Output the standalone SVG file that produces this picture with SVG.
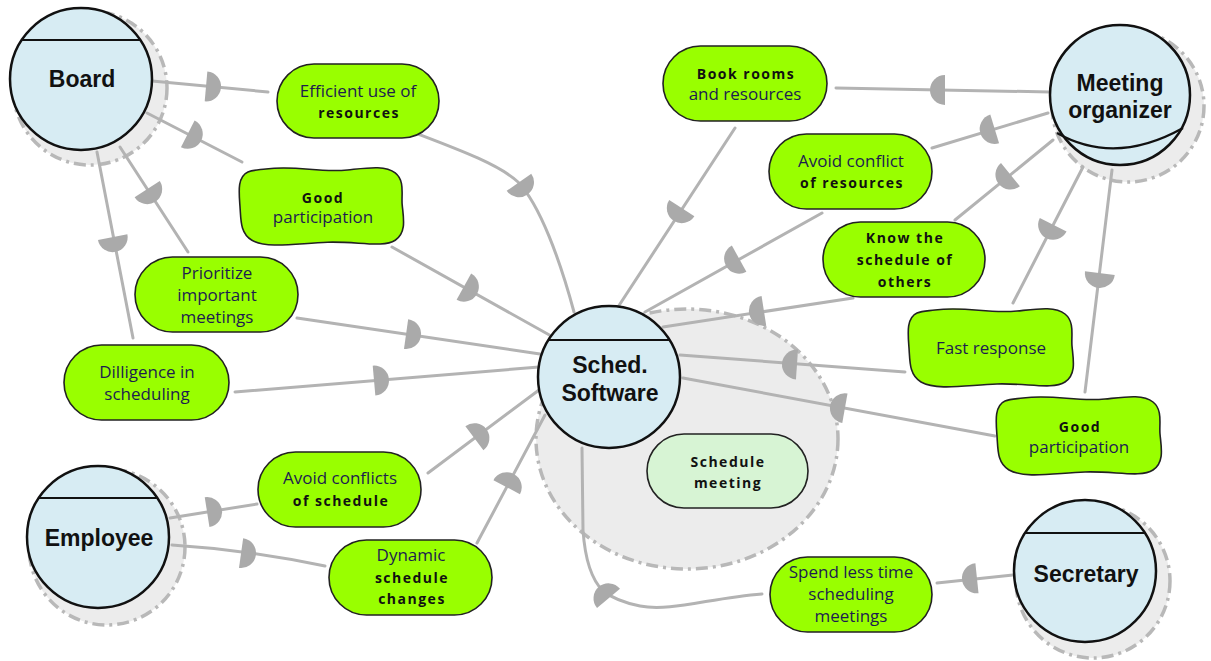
<svg xmlns="http://www.w3.org/2000/svg" xmlns:xlink="http://www.w3.org/1999/xlink" width="1211" height="661" viewBox="0 0 1211 661">
<defs>
<style>
.bnd{fill:#ececec;stroke:#b8b8b8;stroke-width:3.5;stroke-dasharray:12 5 3 5}
.ac{fill:#d7ecf3;stroke:#111;stroke-width:2.5}
.al{fill:none;stroke:#111;stroke-width:2.2}
.goal{fill:#99ff00;stroke:#222;stroke-width:1.6}
.task{fill:#d7f4d4;stroke:#222;stroke-width:1.6}
.link{fill:none;stroke:#b3b3b3;stroke-width:3;stroke-linecap:round}
.d{fill:#aaaaaa}
.lbl{font-family:"Liberation Sans",Arial,sans-serif;font-weight:bold;font-size:23px;text-anchor:middle;fill:#111}
.n{font-family:"Open Sans","Noto Sans",sans-serif;font-size:17px;fill:#1d1d4f;text-anchor:middle}
.b{font-family:"Open Sans","Noto Sans",sans-serif;font-weight:bold;font-size:14px;letter-spacing:1.5px;fill:#111;text-anchor:middle}
</style>
<path id="D" d="M-7,-15 A15,15 0 0 1 -7,15 Z"/>
<path id="sg" d="M28,4 C60,0 80,8 110,5 C130,3 148,0 158,8 C168,16 164,30 165,40 C166,52 170,68 158,76 C146,84 120,77 90,78 C60,79 30,85 14,76 C2,69 3,55 2,42 C1,28 -1,12 10,7 C15,5 20,5 28,4 Z"/>
</defs>
<rect width="1211" height="661" fill="#fff"/>

<g id="boundaries">
<circle class="bnd" cx="90" cy="88" r="77"/>
<circle class="bnd" cx="107" cy="547" r="78"/>
<ellipse class="bnd" cx="687" cy="439" rx="151" ry="130"/>
<circle class="bnd" cx="1128" cy="106" r="76"/>
<circle class="bnd" cx="1093" cy="581" r="77"/>
</g>

<g id="connectors">
<path class="link" d="M152,81 L268,92"/>
<use href="#D" class="d" transform="translate(213,87) rotate(5)"/>
<path class="link" d="M418,134 C460,150 500,165 518,182 C540,205 560,260 574,312"/>
<use href="#D" class="d" transform="translate(523,188) rotate(55)"/>
<path class="link" d="M147,113 L242,162"/>
<use href="#D" class="d" transform="translate(194,137) rotate(27)"/>
<path class="link" d="M392,247 L553,337"/>
<use href="#D" class="d" transform="translate(470,290) rotate(29)"/>
<path class="link" d="M120,147 L188,252"/>
<use href="#D" class="d" transform="translate(151,195) rotate(57)"/>
<path class="link" d="M297,318 L540,354"/>
<use href="#D" class="d" transform="translate(413,335) rotate(8)"/>
<path class="link" d="M97,152 L133,338"/>
<use href="#D" class="d" transform="translate(114,244) rotate(79)"/>
<path class="link" d="M235,392 L539,367"/>
<use href="#D" class="d" transform="translate(381,380) rotate(-5)"/>
<path class="link" d="M170,518 L257,504"/>
<use href="#D" class="d" transform="translate(214,511) rotate(-9)"/>
<path class="link" d="M172,545 Q250,550 325,566"/>
<use href="#D" class="d" transform="translate(248,554) rotate(8)"/>
<path class="link" d="M428,473 L539,390"/>
<use href="#D" class="d" transform="translate(480,434) rotate(-37)"/>
<path class="link" d="M477,543 L545,415"/>
<use href="#D" class="d" transform="translate(510,481) rotate(-62)"/>
<path class="link" d="M735,128 L618,307"/>
<use href="#D" class="d" transform="translate(678,214) rotate(123)"/>
<path class="link" d="M822,213 L645,312"/>
<use href="#D" class="d" transform="translate(733,262) rotate(151)"/>
<path class="link" d="M853,298 L663,327"/>
<use href="#D" class="d" transform="translate(757,312) rotate(171)"/>
<path class="link" d="M905,372 L680,355"/>
<use href="#D" class="d" transform="translate(790,364) rotate(184)"/>
<path class="link" d="M995,436 L683,378"/>
<use href="#D" class="d" transform="translate(838,407) rotate(190)"/>
<path class="link" d="M1050,92 L836,88"/>
<use href="#D" class="d" transform="translate(938,90) rotate(180)"/>
<path class="link" d="M1048,113 L932,148"/>
<use href="#D" class="d" transform="translate(988,131) rotate(163)"/>
<path class="link" d="M1053,140 L955,220"/>
<use href="#D" class="d" transform="translate(1005,179) rotate(141)"/>
<path class="link" d="M1083,167 L1013,303"/>
<use href="#D" class="d" transform="translate(1050,231) rotate(117)"/>
<path class="link" d="M1112,170 L1085,392"/>
<use href="#D" class="d" transform="translate(1099,280) rotate(97)"/>
<path class="link" d="M1013,575 L937,583"/>
<use href="#D" class="d" transform="translate(970,579) rotate(174)"/>
<path class="link" d="M762,594 C710,598 670,612 640,606 C625,603 612,598 603,591 C592,580 585,560 583,530 L582,448"/>
<use href="#D" class="d" transform="translate(604,593) rotate(-130)"/>
</g>

<g id="board">
<circle class="ac" cx="81" cy="79" r="71"/>
<line class="al" x1="22" y1="40" x2="140" y2="40"/>
<text class="lbl" x="82" y="87">Board</text>
</g>
<g id="employee">
<circle class="ac" cx="98" cy="537" r="71"/>
<line class="al" x1="39" y1="498" x2="157" y2="498"/>
<text class="lbl" x="99" y="546">Employee</text>
</g>
<g id="sched-software">
<circle class="ac" cx="609" cy="377" r="71"/>
<line class="al" x1="548" y1="340" x2="670" y2="340"/>
<text class="lbl" x="610" y="373">Sched.</text>
<text class="lbl" x="610" y="401">Software</text>
</g>
<g id="meeting-organizer">
<circle class="ac" cx="1120" cy="95" r="70"/>
<path class="al" d="M1057,133 Q1115,166 1183,128"/>
<text class="lbl" x="1120" y="91">Meeting</text>
<text class="lbl" x="1120" y="118">organizer</text>
</g>
<g id="secretary">
<circle class="ac" cx="1085" cy="571" r="71"/>
<line class="al" x1="1025" y1="533" x2="1145" y2="533"/>
<text class="lbl" x="1086" y="582">Secretary</text>
</g>

<g id="efficient-use">
<rect class="goal" x="277" y="64" width="162" height="74" rx="37"/>
<text class="n" x="358" y="97">Efficient use of</text>
<text class="b" x="359" y="118">resources</text>
</g>
<g id="good-participation-1">
<use href="#sg" class="goal" transform="translate(238,165) scale(0.995,0.99)"/>
<text class="b" x="323" y="203">Good</text>
<text class="n" x="323" y="223">participation</text>
</g>
<g id="prioritize">
<rect class="goal" x="135" y="257" width="163" height="75" rx="37.5"/>
<text class="n" x="217" y="279">Prioritize</text>
<text class="n" x="217" y="301">important</text>
<text class="n" x="217" y="323">meetings</text>
</g>
<g id="dilligence">
<rect class="goal" x="64" y="345" width="165" height="75" rx="37.5"/>
<text class="n" x="147" y="378">Dilligence in</text>
<text class="n" x="147" y="400">scheduling</text>
</g>
<g id="avoid-conflicts-schedule">
<rect class="goal" x="258" y="452" width="163" height="75" rx="37.5"/>
<text class="n" x="340" y="484">Avoid conflicts</text>
<text class="b" x="341" y="506">of schedule</text>
</g>
<g id="dynamic-schedule">
<rect class="goal" x="329" y="540" width="163" height="75" rx="37.5"/>
<text class="n" x="411" y="561">Dynamic</text>
<text class="b" x="412" y="583">schedule</text>
<text class="b" x="412" y="604">changes</text>
</g>
<g id="book-rooms">
<rect class="goal" x="663" y="46" width="164" height="75" rx="37.5"/>
<text class="b" x="746" y="79">Book rooms</text>
<text class="n" x="745" y="100">and resources</text>
</g>
<g id="avoid-conflict-resources">
<rect class="goal" x="769" y="134" width="163" height="75" rx="37.5"/>
<text class="n" x="851" y="167">Avoid conflict</text>
<text class="b" x="852" y="188">of resources</text>
</g>
<g id="know-schedule">
<rect class="goal" x="823" y="222" width="162" height="75" rx="37.5"/>
<text class="b" x="905" y="243">Know the</text>
<text class="b" x="905" y="265">schedule of</text>
<text class="b" x="905" y="287">others</text>
</g>
<g id="fast-response">
<use href="#sg" class="goal" transform="translate(907,306)"/>
<text class="n" x="991" y="354">Fast response</text>
</g>
<g id="good-participation-2">
<use href="#sg" class="goal" transform="translate(995,394)"/>
<text class="b" x="1080" y="432">Good</text>
<text class="n" x="1079" y="453">participation</text>
</g>
<g id="spend-less-time">
<rect class="goal" x="770" y="557" width="162" height="75" rx="37.5"/>
<text class="n" x="851" y="578">Spend less time</text>
<text class="n" x="851" y="600">scheduling</text>
<text class="n" x="851" y="622">meetings</text>
</g>
<g id="schedule-meeting">
<rect class="task" x="647" y="434" width="161" height="74" rx="37"/>
<text class="b" x="728" y="467">Schedule</text>
<text class="b" x="728" y="488">meeting</text>
</g>
</svg>
